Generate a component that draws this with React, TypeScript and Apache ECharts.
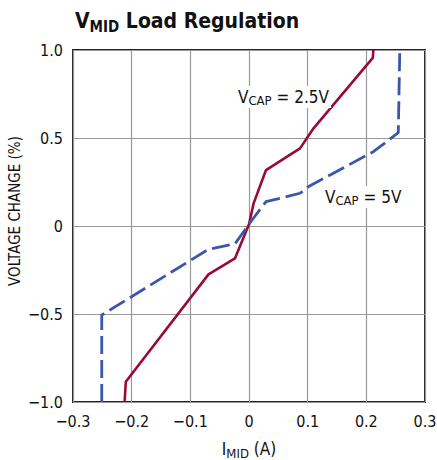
import React, { useEffect, useRef } from "react";
import * as echarts from "echarts";

const FONT = "'Liberation Sans Narrow', 'DejaVu Sans Condensed', 'Liberation Sans', sans-serif";

const xTicks = [-0.3, -0.2, -0.1, 0, 0.1, 0.2, 0.3];
const yTicks = [-1.0, -0.5, 0, 0.5, 1.0];

// V_CAP = 2.5V (solid red)
const redX = [-0.212, -0.21, -0.069, -0.024, 0.0, 0.008, 0.029, 0.087, 0.11, 0.211, 0.212];
const redY = [-1.0, -0.885, -0.275, -0.184, 0.01, 0.13, 0.318, 0.441, 0.555, 0.955, 1.0];

// V_CAP = 5V (dashed blue)
const blueX = [-0.251, -0.251, -0.069, -0.024, 0.002, 0.029, 0.087, 0.101, 0.212, 0.2545, 0.257];
const blueY = [-1.0, -0.506, -0.132, -0.102, 0.02, 0.138, 0.186, 0.223, 0.422, 0.53, 1.0];

const zip = (xs: number[], ys: number[]) => xs.map((x, i) => [x, ys[i]]);

const fmt = (v: number, digits: number) => {
  if (Math.abs(v) < 1e-9) return "0";
  const s = v.toFixed(digits);
  return s.replace("-", "\u2212");
};

export default function App() {
  const ref = useRef<HTMLDivElement>(null);
  useEffect(() => {
    if (!ref.current) return;
    document.body.style.margin = "0";
    document.body.style.overflow = "hidden";
    const chart = echarts.init(ref.current, undefined, { renderer: "svg" });
    chart.setOption({
      animation: false,
      backgroundColor: "#fff",
      title: {
        text: "{v|V}{sub|MID}{v| Load Regulation}",
        left: 70,
        top: 3,
        textStyle: {
          rich: {
            v: { fontFamily: FONT, fontWeight: "bold", fontSize: 21, color: "#111", lineHeight: 26 },
            sub: { fontFamily: FONT, fontWeight: "bold", fontSize: 15, color: "#111", lineHeight: 11, verticalAlign: "bottom" },
          },
        },
      },
      grid: {
        left: 73,
        right: 12,
        top: 50,
        bottom: 58,
        show: true,
        borderColor: "#222",
        borderWidth: 2,
        backgroundColor: "transparent",
        outerBoundsMode: "none",
        containLabel: false,
      },
      xAxis: {
        type: "value",
        min: xTicks[0],
        max: xTicks[xTicks.length - 1],
        interval: 0.1,
        axisLine: { show: false },
        axisTick: { show: false },
        splitLine: { show: true, lineStyle: { color: "#999", width: 1.2 } },
        axisLabel: {
          fontFamily: FONT,
          fontSize: 16,
          color: "#111",
          margin: 11,
          showMaxLabel: true,
          showMinLabel: true,
          hideOverlap: false,
          formatter: (v: number) => fmt(v, 1),
        },
        name: "{v|I}{sub|MID}{v| (A)}",
        nameLocation: "middle",
        nameGap: 36,
        nameTextStyle: {
          verticalAlign: "top",
          rich: {
            v: { fontFamily: FONT, fontSize: 17, color: "#111", lineHeight: 22 },
            sub: { fontFamily: FONT, fontSize: 13, color: "#111", lineHeight: 10, verticalAlign: "bottom" },
          },
        },
      },
      yAxis: {
        type: "value",
        min: yTicks[0],
        max: yTicks[yTicks.length - 1],
        interval: 0.5,
        axisLine: { show: false },
        axisTick: { show: false },
        splitLine: { show: true, lineStyle: { color: "#999", width: 1.2 } },
        axisLabel: {
          fontFamily: FONT,
          fontSize: 16,
          color: "#111",
          margin: 10,
          formatter: (v: number) => fmt(v, 1),
        },
      },
      graphic: [
        {
          type: "text",
          x: 15,
          y: 211,
          rotation: Math.PI / 2,
          style: {
            text: "VOLTAGE CHANGE (%)",
            fontFamily: FONT,
            fontSize: 15,
            fill: "#111",
            align: "center",
            verticalAlign: "middle",
          },
        },
        {
          type: "text",
          x: 236,
          y: 97,
          z: 100,
          style: {
            text: "{v|V}{sub|CAP}{v| = 2.5V}",
            verticalAlign: "middle",
            backgroundColor: "#fff",
            padding: [1, 2, 1, 2],
            rich: {
              v: { fontFamily: FONT, fontSize: 17, fill: "#111", lineHeight: 20 },
              sub: { fontFamily: FONT, fontSize: 13, fill: "#111", lineHeight: 12, verticalAlign: "bottom" },
            },
          },
        },
        {
          type: "text",
          x: 323,
          y: 197,
          z: 100,
          style: {
            text: "{v|V}{sub|CAP}{v| = 5V}",
            verticalAlign: "middle",
            backgroundColor: "#fff",
            padding: [1, 2, 1, 2],
            rich: {
              v: { fontFamily: FONT, fontSize: 17, fill: "#111", lineHeight: 20 },
              sub: { fontFamily: FONT, fontSize: 13, fill: "#111", lineHeight: 12, verticalAlign: "bottom" },
            },
          },
        },
      ],
      series: [
        {
          name: "VCAP = 2.5V",
          type: "line",
          data: zip(redX, redY),
          showSymbol: false,
          lineStyle: { color: "#9a0a35", width: 2.6 },
          z: 3,
        },
        {
          name: "VCAP = 5V",
          type: "line",
          data: zip(blueX, blueY),
          showSymbol: false,
          lineStyle: { color: "#3a56ad", width: 2.8, type: [18, 6] },
          z: 4,
        },
      ],
    });
    return () => chart.dispose();
  }, []);
  return (
    <div
      ref={ref}
      style={{ position: "fixed", left: 0, top: 0, width: 437, height: 460 }}
    />
  );
}
